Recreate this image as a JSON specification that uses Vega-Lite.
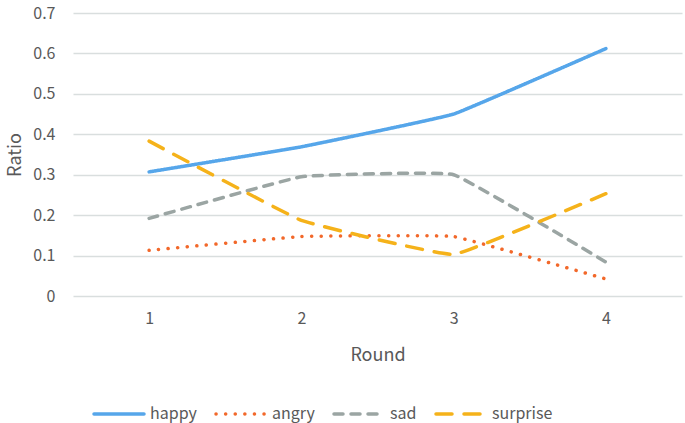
{
  "$schema": "https://vega.github.io/schema/vega-lite/v6.json",
  "width": 609,
  "height": 283,
  "autosize": {"type": "none"},
  "padding": {"left": 73, "top": 13, "right": 3, "bottom": 127},
  "background": "white",
  "config": {
    "view": {"stroke": null},
    "font": "Noto Sans CJK JP",
    "axis": {"labelColor": "#595959", "titleColor": "#595959", "labelFontSize": 16, "titleFontSize": 18, "titleFontWeight": "normal", "ticks": false, "domain": false}
  },
  "data": {
    "values": [
      {"round": "1", "series": "happy", "ratio": 0.307},
      {"round": "2", "series": "happy", "ratio": 0.369},
      {"round": "3", "series": "happy", "ratio": 0.45},
      {"round": "4", "series": "happy", "ratio": 0.612},
      {"round": "1", "series": "angry", "ratio": 0.113},
      {"round": "2", "series": "angry", "ratio": 0.147},
      {"round": "3", "series": "angry", "ratio": 0.147},
      {"round": "4", "series": "angry", "ratio": 0.042},
      {"round": "1", "series": "sad", "ratio": 0.192},
      {"round": "2", "series": "sad", "ratio": 0.295},
      {"round": "3", "series": "sad", "ratio": 0.30},
      {"round": "4", "series": "sad", "ratio": 0.084},
      {"round": "1", "series": "surprise", "ratio": 0.383},
      {"round": "2", "series": "surprise", "ratio": 0.187},
      {"round": "3", "series": "surprise", "ratio": 0.103},
      {"round": "4", "series": "surprise", "ratio": 0.253}
    ]
  },
  "mark": {"type": "line", "strokeWidth": 3.5, "strokeCap": "round", "interpolate": "cardinal", "tension": 0.75},
  "encoding": {
    "x": {
      "field": "round", "type": "ordinal", "title": "Round",
      "scale": {"type": "point", "padding": 0.5},
      "axis": {"labelAngle": 0, "labelPadding": 14, "titlePadding": 20, "grid": false}
    },
    "y": {
      "field": "ratio", "type": "quantitative", "title": "Ratio",
      "scale": {"domain": [0, 0.7], "nice": false},
      "axis": {"values": [0, 0.1, 0.2, 0.3, 0.4, 0.5, 0.6, 0.7], "labelPadding": 18, "titlePadding": 8, "gridColor": "#D9DEDE", "gridWidth": 1.3, "labelExpr": "datum.value === 0 ? '0' : format(datum.value, '.1f')"}
    },
    "color": {
      "field": "series", "type": "nominal",
      "scale": {"domain": ["happy", "angry", "sad", "surprise"], "range": ["#56A6EA", "#F2682A", "#9BA5A3", "#F5B21A"]},
      "legend": {
        "orient": "none", "legendX": 19, "legendY": 374, "direction": "horizontal", "title": null,
        "symbolType": "stroke", "symbolSize": 2500, "symbolStrokeWidth": 3.5,
        "labelFontSize": 16, "labelColor": "#595959", "columnPadding": 12, "labelOffset": 4,
        "encode": {"symbols": {"update": {"strokeCap": {"value": "round"}}}}
      }
    },
    "strokeDash": {
      "field": "series", "type": "nominal",
      "scale": {"domain": ["happy", "angry", "sad", "surprise"], "range": [[1, 0], [0.1, 9.5], [9, 8], [16, 12]]},
      "legend": null
    }
  }
}
